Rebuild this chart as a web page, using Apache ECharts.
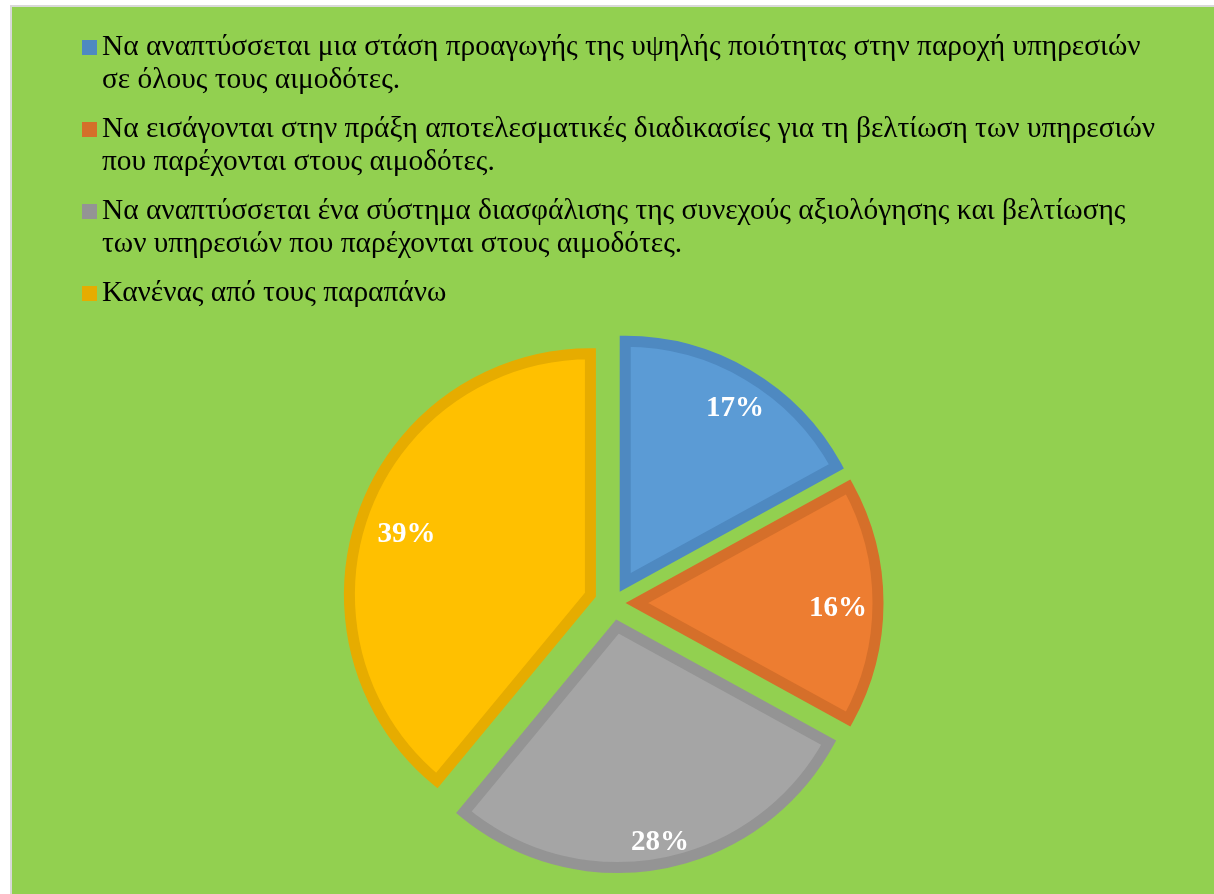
<!DOCTYPE html>
<html>
<head>
<meta charset="utf-8">
<script src="https://cdn.jsdelivr.net/npm/echarts@6/dist/echarts.min.js"></script>
<style>
  html, body { margin: 0; padding: 0; background: #ffffff; width: 1214px; height: 894px; overflow: hidden; }
  #frame { position: absolute; left: 10px; top: 5px; right: 0; bottom: 0; border-left: 2px solid #d9d9d9; border-top: 2px solid #d9d9d9; background: #92D050; }
  #chart { position: absolute; left: 0; top: 0; width: 1202px; height: 887px; }
</style>
</head>
<body>
<div id="frame"><div id="chart"></div></div>
<script>
// Answer options, each split into the lines shown in the legend
const categoryLines = [
  ['Να αναπτύσσεται μια στάση προαγωγής της υψηλής ποιότητας στην παροχή υπηρεσιών', 'σε όλους τους αιμοδότες.'],
  ['Να εισάγονται στην πράξη αποτελεσματικές διαδικασίες για τη βελτίωση των υπηρεσιών', 'που παρέχονται στους αιμοδότες.'],
  ['Να αναπτύσσεται ένα σύστημα διασφάλισης της συνεχούς αξιολόγησης και βελτίωσης', 'των υπηρεσιών που παρέχονται στους αιμοδότες.'],
  ['Κανένας από τους παραπάνω']
];
const categories = categoryLines.map(l => l.join(' '));
// Share of answers, in percent
const values = [17, 16, 28, 39];

const fillColors = ['#5B9BD5', '#ED7D31', '#A5A5A5', '#FFC000'];
const edgeColors = ['#4E89C1', '#D56F2A', '#949494', '#E6AC00'];
// Small shifts [dx, dy] that push each percentage label toward the outer edge of its slice
const labelNudges = [[5, 3], [-5, 6], [4, 14], [10, 9]];

// Legend marker: a square at the top of a taller box so it sits beside the first text line
const markerPath = 'path://M0,0h15v15h-15zM0,48h15';
const serifFamily = "'Liberation Serif', 'DejaVu Serif', serif";

const chart = echarts.init(document.getElementById('chart'), null, { renderer: 'canvas' });

const wrapped = {};
categories.forEach((name, i) => {
  const lines = categoryLines[i].slice();
  if (lines.length < 2) lines.push(' ');
  wrapped[name] = lines.join('\n');
});

const sliceData = categories.map((name, i) => ({
  name: name,
  value: values[i],
  selected: true,
  itemStyle: { color: fillColors[i], borderColor: edgeColors[i] },
  select: { itemStyle: { color: fillColors[i], borderColor: edgeColors[i], borderWidth: 11 } }
}));

// A rich label box padded on one side shifts its text by half the padding
const nudgePadding = ([dx, dy]) => [Math.max(0, 2 * dy), Math.max(0, -2 * dx), Math.max(0, -2 * dy), Math.max(0, 2 * dx)];

const labelData = categories.map((name, i) => ({
  name: name,
  value: values[i],
  selected: true,
  label: { padding: nudgePadding(labelNudges[i]) }
}));

const center = [601, 596];
const explode = 24;

chart.setOption({
  animation: false,
  backgroundColor: 'transparent',
  legend: {
    orient: 'vertical',
    left: 70,
    top: 24,
    padding: 0,
    itemGap: 16,
    itemWidth: 15,
    itemHeight: 48,
    selectedMode: false,
    icon: markerPath,
    itemStyle: { borderWidth: 0 },
    textStyle: { fontFamily: serifFamily, fontSize: 29.4, color: '#000000', lineHeight: 33 },
    formatter: name => wrapped[name],
    data: categories.map((name, i) => ({ name: name, icon: markerPath, itemStyle: { color: edgeColors[i], borderWidth: 0 } }))
  },
  series: [
    {
      type: 'pie',
      center: center,
      radius: [0, 241],
      startAngle: 90,
      clockwise: true,
      selectedMode: 'multiple',
      selectedOffset: explode,
      silent: true,
      emphasis: { disabled: true },
      itemStyle: { borderWidth: 11, borderJoin: 'miter' },
      label: { show: false },
      labelLine: { show: false },
      data: sliceData
    },
    {
      type: 'pie',
      center: center,
      radius: [182, 224],
      startAngle: 90,
      clockwise: true,
      selectedMode: 'multiple',
      selectedOffset: explode,
      silent: true,
      emphasis: { disabled: true },
      itemStyle: { color: 'rgba(0,0,0,0)', borderWidth: 0 },
      select: { itemStyle: { color: 'rgba(0,0,0,0)', borderWidth: 0 } },
      label: {
        show: true,
        position: 'inside',
        formatter: '{v|{c}%}',
        rich: {
          v: { color: '#ffffff', fontFamily: 'Liberation Serif', fontWeight: 'bold', fontSize: 29, lineHeight: 32 }
        }
      },
      labelLine: { show: false },
      data: labelData
    }
  ]
});
</script>
</body>
</html>
